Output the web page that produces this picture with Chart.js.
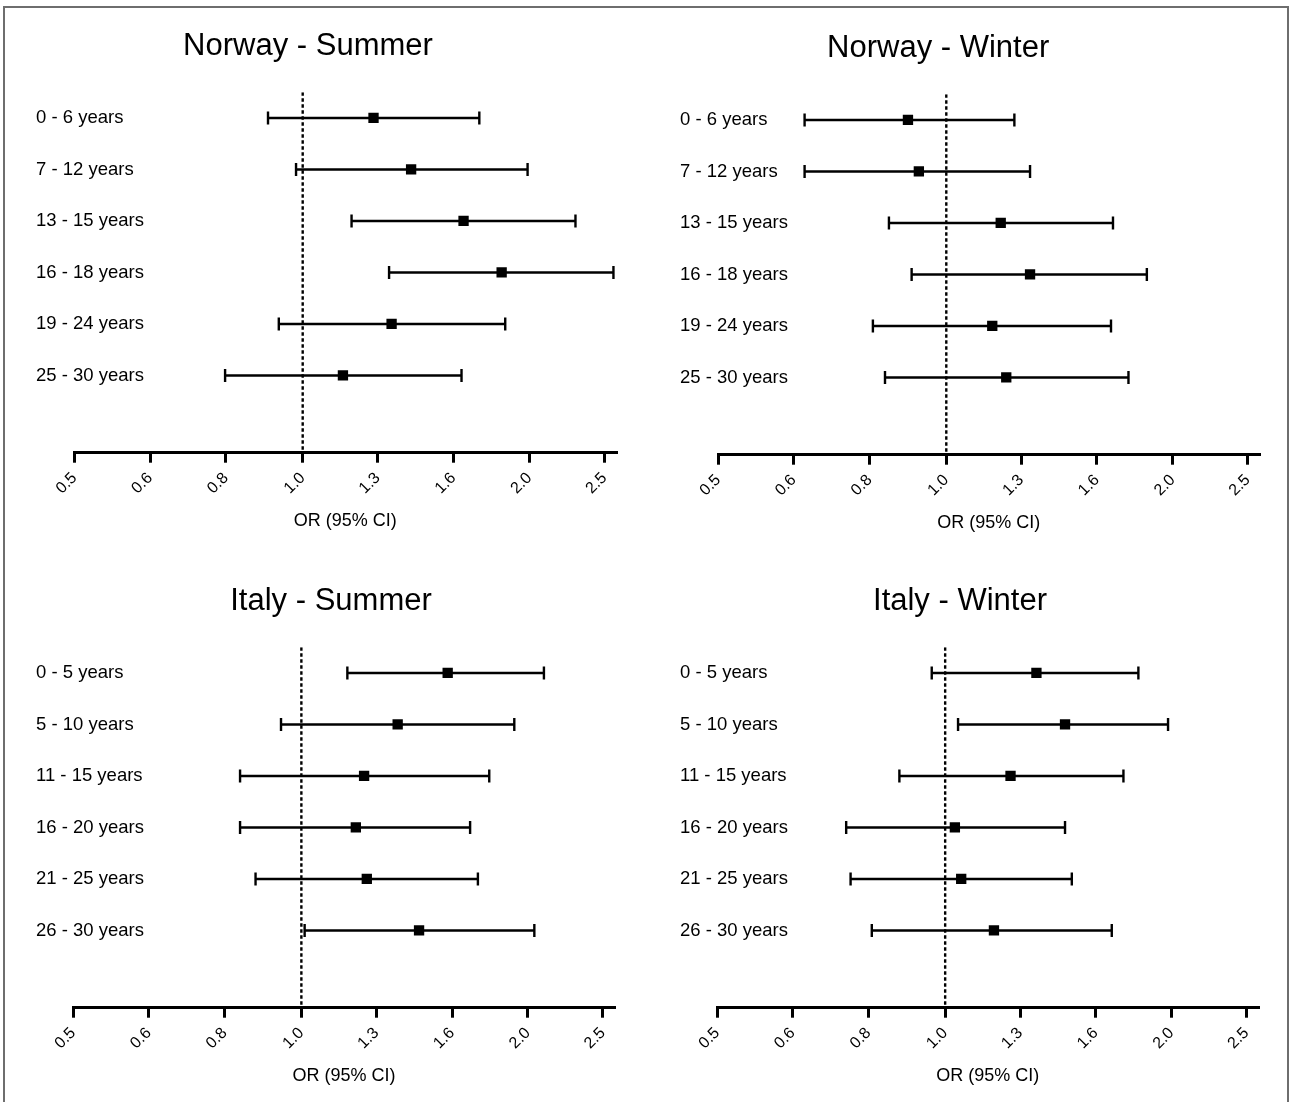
<!DOCTYPE html>
<html>
<head>
<meta charset="utf-8">
<script src="https://cdn.jsdelivr.net/npm/chart.js@4.4.0/dist/chart.umd.min.js"></script>
<style>
html,body{margin:0;padding:0;background:#fff;width:1292px;height:1102px;overflow:hidden;position:relative}
#frame{position:absolute;left:3px;top:6px;width:1286px;height:1120px;border:2px solid #6e6e6e;box-sizing:border-box}
canvas{position:absolute}
</style>
</head>
<body>
<div id="frame"></div>
<canvas id="c0" width="630" height="545" style="left:0px;top:0px"></canvas>
<canvas id="c1" width="660" height="545" style="left:616px;top:2px"></canvas>
<canvas id="c2" width="630" height="545" style="left:0px;top:555px"></canvas>
<canvas id="c3" width="660" height="545" style="left:616px;top:555px"></canvas>
<script>
// ---- data ----
const norwayAgeGroups = ['0 - 6 years', '7 - 12 years', '13 - 15 years', '16 - 18 years', '19 - 24 years', '25 - 30 years'];
const italyAgeGroups  = ['0 - 5 years', '5 - 10 years', '11 - 15 years', '16 - 20 years', '21 - 25 years', '26 - 30 years'];

const norwaySummerOR   = [1.24, 1.39, 1.63, 1.83, 1.31, 1.13];
const norwaySummerLow  = [0.90, 0.98, 1.16, 1.30, 0.93, 0.79];
const norwaySummerHigh = [1.71, 1.98, 2.29, 2.57, 1.85, 1.62];

const norwayWinterOR   = [0.89, 0.92, 1.18, 1.29, 1.15, 1.20];
const norwayWinterLow  = [0.65, 0.65, 0.84, 0.90, 0.80, 0.83];
const norwayWinterHigh = [1.23, 1.29, 1.66, 1.84, 1.65, 1.74];

const italySummerOR   = [1.56, 1.34, 1.21, 1.18, 1.22, 1.43];
const italySummerLow  = [1.15, 0.94, 0.83, 0.83, 0.87, 1.01];
const italySummerHigh = [2.09, 1.91, 1.77, 1.67, 1.71, 2.03];

const italyWinterOR   = [1.32, 1.44, 1.22, 1.03, 1.05, 1.16];
const italyWinterLow  = [0.96, 1.04, 0.87, 0.74, 0.75, 0.80];
const italyWinterHigh = [1.80, 1.97, 1.72, 1.44, 1.47, 1.66];

const tickValues = [0.5, 0.629, 0.792, 1.0, 1.256, 1.581, 1.991, 2.5];
const tickLabels = ['0.5', '0.6', '0.8', '1.0', '1.3', '1.6', '2.0', '2.5'];
const referenceOR = 1.0;
const axisTitle = 'OR (95% CI)';

// ---- panels ----
const panels = [
  {id: 'c0', title: 'Norway - Summer', labels: norwayAgeGroups, or: norwaySummerOR, lo: norwaySummerLow, hi: norwaySummerHigh,
   padL: 0, padR: 14, yWidth: 74.5, labelPad: -38.5},
  {id: 'c1', title: 'Norway - Winter', labels: norwayAgeGroups, or: norwayWinterOR, lo: norwayWinterLow, hi: norwayWinterHigh,
   padL: 1, padR: 16.7, yWidth: 101.3, labelPad: -38.3},
  {id: 'c2', title: 'Italy - Summer', labels: italyAgeGroups, or: italySummerOR, lo: italySummerLow, hi: italySummerHigh,
   padL: 47.5, padR: 15.5, yWidth: 25.8, labelPad: -37.3},
  {id: 'c3', title: 'Italy - Winter', labels: italyAgeGroups, or: italyWinterOR, lo: italyWinterLow, hi: italyWinterHigh,
   padL: 46, padR: 18, yWidth: 55.3, labelPad: -37.3}
];

Chart.defaults.font.family = "'Liberation Sans', Arial, Helvetica, sans-serif";
Chart.defaults.color = '#000';

panels.forEach(p => {
  const n = p.labels.length;
  const datasets = [];
  // point estimates
  datasets.push({
    type: 'scatter', order: 0,
    data: p.or.map((v, i) => ({x: v, y: i})),
    pointStyle: 'rect', pointRadius: 7.3, pointBorderWidth: 0,
    pointBackgroundColor: '#000', pointBorderColor: '#000', showLine: false
  });
  // confidence intervals
  for (let i = 0; i < n; i++) {
    datasets.push({
      type: 'scatter', order: 1, showLine: true,
      data: [{x: p.lo[i], y: i}, {x: p.hi[i], y: i}],
      borderColor: '#000', borderWidth: 2.4, borderCapStyle: 'butt',
      pointStyle: 'line', pointRotation: 90, pointRadius: 6.5,
      pointBorderWidth: 2.4, pointBorderColor: '#000', pointBackgroundColor: '#000'
    });
  }
  // reference line at OR = 1
  datasets.push({
    type: 'scatter', order: 2, showLine: true,
    data: [{x: referenceOR, y: -0.5}, {x: referenceOR, y: n + 0.5}],
    borderColor: '#000', borderWidth: 2.4, borderDash: [3.5, 2.5], pointRadius: 0
  });

  new Chart(document.getElementById(p.id), {
    type: 'scatter',
    data: {datasets},
    options: {
      responsive: false, animation: false, events: [],
      layout: {padding: {left: p.padL, right: p.padR, top: 0, bottom: 12.3}},
      plugins: {
        legend: {display: false}, tooltip: {enabled: false},
        title: {display: true, text: p.title, color: '#000', align: 'center',
                font: {size: 31, weight: 'normal'}, padding: {top: 28, bottom: 27}}
      },
      scales: {
        x: {
          type: 'logarithmic', position: 'bottom', min: 0.5, max: 2.59,
          afterBuildTicks: s => { s.ticks = tickValues.map(v => ({value: v})); },
          afterFit: s => { s.height = 80; },
          ticks: {autoSkip: false, minRotation: 45, maxRotation: 45, padding: 6, color: '#000',
                  font: {size: 16}, callback: (v, i) => tickLabels[i]},
          grid: {display: true, drawOnChartArea: false, drawTicks: true, tickLength: 10,
                 tickWidth: 3, tickColor: '#000', color: '#000', lineWidth: 3},
          border: {display: true, width: 3, color: '#000'},
          title: {display: true, text: axisTitle, color: '#000', font: {size: 18}, padding: {top: 0, bottom: 1}}
        },
        y: {
          type: 'linear', position: 'left', reverse: true, min: -0.5, max: n + 0.5,
          afterBuildTicks: s => { s.ticks = p.labels.map((_, i) => ({value: i})); },
          afterFit: s => { s.width = p.yWidth; },
          ticks: {mirror: true, crossAlign: 'near', padding: p.labelPad, color: '#000',
                  font: {size: 18.5}, callback: v => p.labels[v]},
          grid: {display: false},
          border: {display: false}
        }
      }
    }
  });
});
</script>
</body>
</html>
